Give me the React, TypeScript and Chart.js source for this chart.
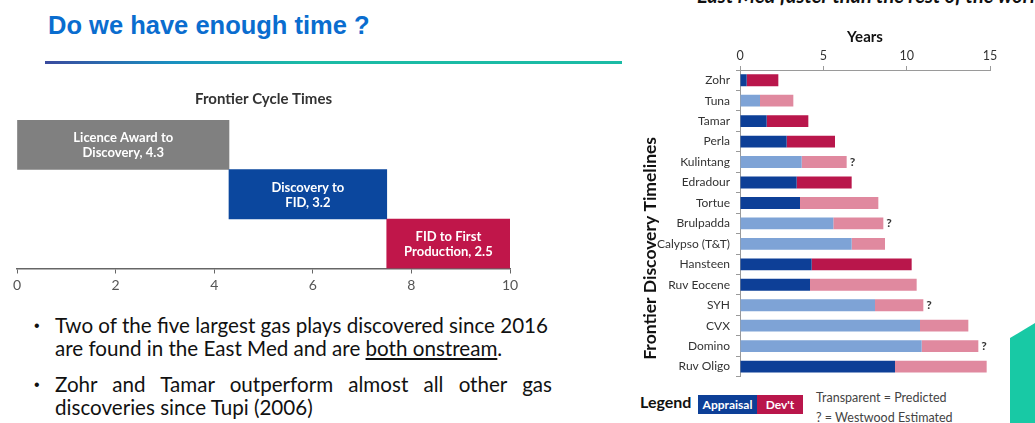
import React, { useEffect, useRef } from 'react';
import { Chart, registerables } from 'chart.js';

Chart.register(...registerables);

const FONT = 'Lato, "Noto Sans", sans-serif';
const BODY_FONT = 'Lato, "Noto Sans", sans-serif';

// ---------- Left chart: Frontier Cycle Times ----------
const phaseNames = ['Licence Award to Discovery', 'Discovery to FID', 'FID to First Production'];
const phaseYears = [4.3, 3.2, 2.5];
const phaseLabelLines = [
  ['Licence Award to', 'Discovery, 4.3'],
  ['Discovery to', 'FID, 3.2'],
  ['FID to First', 'Production, 2.5'],
];
const phaseColors = ['#808080', '#0b479e', '#c0164a'];
const cycleAxisMax = 10;
const cycleTickStep = 2;

// ---------- Right chart: Frontier Discovery Timelines ----------
const discoveries = [
  'Zohr', 'Tuna', 'Tamar', 'Perla', 'Kulintang', 'Edradour', 'Tortue', 'Brulpadda',
  'Calypso (T&T)', 'Hansteen', 'Ruv Eocene', 'SYH', 'CVX', 'Domino', 'Ruv Oligo',
];
const appraisalYears = [0.4, 1.2, 1.6, 2.8, 3.7, 3.4, 3.6, 5.6, 6.7, 4.3, 4.2, 8.1, 10.8, 10.9, 9.3];
const devYears = [1.9, 2.0, 2.5, 2.9, 2.7, 3.3, 4.7, 3.0, 2.0, 6.0, 6.4, 2.9, 2.9, 3.4, 5.5];
const appraisalPredicted = [0, 1, 0, 0, 1, 0, 0, 1, 1, 0, 0, 1, 1, 1, 0];
const devPredicted = [0, 1, 0, 0, 1, 0, 1, 1, 1, 0, 1, 1, 1, 1, 1];
const westwoodEstimated = [0, 0, 0, 0, 1, 0, 0, 1, 0, 0, 0, 1, 0, 1, 0];
const timelineAxisMax = 15;
const timelineTickStep = 5;
const timelineYTitle = 'Frontier Discovery Timelines';

const DARK_BLUE = '#0d3f97';
const LIGHT_BLUE = '#7ea3d6';
const RED = '#b9164b';
const PINK = '#e0899f';

function CycleChart() {
  const ref = useRef<HTMLCanvasElement>(null);
  useEffect(() => {
    const starts = phaseYears.map((_, i) => phaseYears.slice(0, i).reduce((a, b) => a + b, 0));
    const ranges = phaseYears.map((v, i) => [starts[i], starts[i] + v]);
    const labelPlugin = {
      id: 'phaseLabels',
      afterDatasetsDraw(chart: any) {
        const ctx = chart.ctx;
        const meta = chart.getDatasetMeta(0);
        ctx.save();
        ctx.fillStyle = '#ffffff';
        ctx.font = `bold 13px ${FONT}`;
        ctx.textAlign = 'center';
        ctx.textBaseline = 'middle';
        meta.data.forEach((bar: any, i: number) => {
          const { x, y, base } = bar.getProps(['x', 'y', 'base'], true);
          const cx = (x + base) / 2;
          const lines = phaseLabelLines[i];
          lines.forEach((t, j) => ctx.fillText(t, cx, y + 1 + (j - (lines.length - 1) / 2) * 15));
        });
        ctx.restore();
      },
    };
    const chart = new Chart(ref.current as HTMLCanvasElement, {
      type: 'bar',
      data: {
        labels: phaseNames,
        datasets: [
          {
            data: ranges as any,
            backgroundColor: phaseColors,
            barPercentage: 1,
            categoryPercentage: 1,
            borderWidth: 0,
          },
        ],
      },
      options: {
        indexAxis: 'y',
        animation: false,
        responsive: false,
        layout: { padding: { left: 17, right: 25, top: 0, bottom: 0 } },
        plugins: {
          legend: { display: false },
          tooltip: { enabled: false },
          title: {
            display: true,
            fullSize: false,
            text: 'Frontier Cycle Times',
            font: { family: FONT, size: 15, weight: 'bold' },
            color: '#333333',
            padding: { top: 5, bottom: 12 },
          },
        },
        scales: {
          x: {
            min: 0,
            max: cycleAxisMax,
            ticks: { stepSize: cycleTickStep, font: { family: FONT, size: 14 }, color: '#555555', padding: 4 },
            grid: { drawOnChartArea: false, tickLength: 5, color: '#666666' },
            border: { color: '#666666', width: 1.5 },
            afterFit: (s: any) => {
              s.height = 36.5;
            },
          },
          y: { display: false },
        },
      } as any,
      plugins: [labelPlugin],
    });
    return () => chart.destroy();
  }, []);
  return (
    <canvas ref={ref} width={535} height={220} style={{ position: 'absolute', left: 0, top: 85 }} />
  );
}

function TimelineChart() {
  const ref = useRef<HTMLCanvasElement>(null);
  useEffect(() => {
    const extras = {
      id: 'timelineExtras',
      afterDraw(chart: any) {
        const ctx = chart.ctx;
        const area = chart.chartArea;
        const meta = chart.getDatasetMeta(1);
        ctx.save();
        ctx.fillStyle = '#333333';
        ctx.font = `bold 12px ${FONT}`;
        ctx.textAlign = 'left';
        ctx.textBaseline = 'middle';
        meta.data.forEach((bar: any, i: number) => {
          if (!westwoodEstimated[i]) return;
          const { x, y } = bar.getProps(['x', 'y'], true);
          ctx.fillText('?', x + 3, y);
        });
        ctx.restore();
        ctx.save();
        ctx.fillStyle = '#111111';
        ctx.font = `bold 17.5px ${FONT}`;
        ctx.textAlign = 'center';
        ctx.textBaseline = 'middle';
        ctx.translate(20, (area.top + area.bottom) / 2 + 25);
        ctx.rotate(-Math.PI / 2);
        ctx.fillText(timelineYTitle, 0, 0);
        ctx.restore();
      },
    };
    const chart = new Chart(ref.current as HTMLCanvasElement, {
      type: 'bar',
      data: {
        labels: discoveries,
        datasets: [
          {
            label: 'Appraisal',
            data: appraisalYears,
            backgroundColor: appraisalPredicted.map((p) => (p ? LIGHT_BLUE : DARK_BLUE)),
            barPercentage: 0.58,
            categoryPercentage: 1,
            borderWidth: 0,
          },
          {
            label: "Dev't",
            data: devYears,
            backgroundColor: devPredicted.map((p) => (p ? PINK : RED)),
            barPercentage: 0.58,
            categoryPercentage: 1,
            borderWidth: 0,
          },
        ],
      },
      options: {
        indexAxis: 'y',
        animation: false,
        responsive: false,
        layout: { padding: { left: 0, right: 15, top: 0, bottom: 8 } },
        plugins: { legend: { display: false }, tooltip: { enabled: false } },
        scales: {
          x: {
            position: 'top',
            stacked: true,
            min: 0,
            max: timelineAxisMax,
            ticks: { stepSize: timelineTickStep, font: { family: FONT, size: 12.5 }, color: '#333333', padding: 3 },
            grid: { drawOnChartArea: false, tickLength: 4, color: '#9a9a9a' },
            border: { color: '#9a9a9a' },
            title: {
              display: true,
              text: 'Years',
              font: { family: FONT, size: 15, weight: 'bold' },
              color: '#111111',
              padding: { top: 8, bottom: 0 },
            },
            afterFit: (s: any) => {
              s.height = 50;
            },
          },
          y: {
            stacked: true,
            ticks: { font: { family: FONT, size: 12 }, color: '#333333', padding: 6 },
            grid: { drawOnChartArea: false, tickLength: 4, color: '#9a9a9a', offset: true },
            border: { color: '#9a9a9a' },
            afterFit: (s: any) => {
              s.width = 110;
            },
          },
        },
      } as any,
      plugins: [extras],
    });
    return () => chart.destroy();
  }, []);
  return (
    <canvas ref={ref} width={375} height={370} style={{ position: 'absolute', left: 630, top: 20 }} />
  );
}

const bodyText: React.CSSProperties = {
  position: 'absolute',
  fontFamily: BODY_FONT,
  fontSize: 20.6,
  color: '#111111',
  whiteSpace: 'nowrap',
  lineHeight: '23px',
};

const bulletDot: React.CSSProperties = {
  position: 'absolute',
  fontFamily: '"Liberation Sans", Arial, sans-serif',
  fontSize: 16,
  color: '#111111',
  lineHeight: '23px',
};

export default function App() {
  return (
    <div
      style={{
        position: 'absolute',
        left: 0,
        top: 0,
        width: 1035,
        height: 423,
        overflow: 'hidden',
        background: '#ffffff',
      }}
    >
      <div
        style={{
          position: 'absolute',
          left: 697,
          top: -17,
          fontFamily: FONT,
          fontWeight: 'bold',
          fontStyle: 'italic',
          fontSize: 20,
          color: '#111',
          whiteSpace: 'nowrap',
        }}
      >
        East Med faster than the rest of the world
      </div>
      <div
        style={{
          position: 'absolute',
          left: 48,
          top: 11,
          fontFamily: '"Liberation Sans", Arial, sans-serif',
          fontWeight: 'bold',
          fontSize: 25.5,
          color: '#0a6dcf',
          whiteSpace: 'nowrap',
        }}
      >
        Do we have enough time ?
      </div>
      <div
        style={{
          position: 'absolute',
          left: 45,
          top: 61,
          width: 577,
          height: 3,
          background: 'linear-gradient(90deg, #3a4a9e 0%, #1a8fc0 22%, #1bbba5 45%, #1bbba5 100%)',
        }}
      />
      <CycleChart />
      <div style={{ ...bulletDot, left: 34, top: 314 }}>•</div>
      <div style={{ ...bodyText, left: 55, top: 314 }}>Two of the five largest gas plays discovered since 2016</div>
      <div style={{ ...bodyText, left: 55, top: 337 }}>
        are found in the East Med and are <span style={{ textDecoration: 'underline' }}>both onstream</span>.
      </div>
      <div style={{ ...bulletDot, left: 34, top: 373 }}>•</div>
      <div
        style={{
          ...bodyText,
          left: 55,
          top: 373,
          width: 497,
          whiteSpace: 'normal',
          textAlign: 'justify',
          textAlignLast: 'justify',
        }}
      >
        Zohr and Tamar outperform almost all other gas
      </div>
      <div style={{ ...bodyText, left: 55, top: 396 }}>discoveries since Tupi (2006)</div>
      <TimelineChart />
      <div
        style={{
          position: 'absolute',
          left: 640,
          top: 392,
          fontFamily: FONT,
          fontWeight: 'bold',
          fontSize: 16,
          color: '#111',
        }}
      >
        Legend
      </div>
      <div
        style={{
          position: 'absolute',
          left: 698,
          top: 395,
          width: 59,
          height: 19,
          background: DARK_BLUE,
          color: '#fff',
          fontFamily: FONT,
          fontWeight: 'bold',
          fontSize: 12,
          lineHeight: '19px',
          textAlign: 'center',
        }}
      >
        Appraisal
      </div>
      <div
        style={{
          position: 'absolute',
          left: 757,
          top: 395,
          width: 46,
          height: 19,
          background: RED,
          color: '#fff',
          fontFamily: FONT,
          fontWeight: 'bold',
          fontSize: 12,
          lineHeight: '19px',
          textAlign: 'center',
        }}
      >
        Dev't
      </div>
      <div
        style={{
          position: 'absolute',
          left: 816,
          top: 390,
          fontFamily: FONT,
          fontSize: 12.5,
          color: '#444',
          whiteSpace: 'nowrap',
        }}
      >
        Transparent = Predicted
      </div>
      <div
        style={{
          position: 'absolute',
          left: 816,
          top: 410,
          fontFamily: FONT,
          fontSize: 12.5,
          color: '#444',
          whiteSpace: 'nowrap',
        }}
      >
        ? = Westwood Estimated
      </div>
      <div
        style={{
          position: 'absolute',
          left: 1010,
          top: 323,
          width: 25,
          height: 100,
          background: '#18c9a5',
          clipPath: 'polygon(0 15px, 100% 0, 100% 100%, 0 100%)',
        }}
      />
    </div>
  );
}
